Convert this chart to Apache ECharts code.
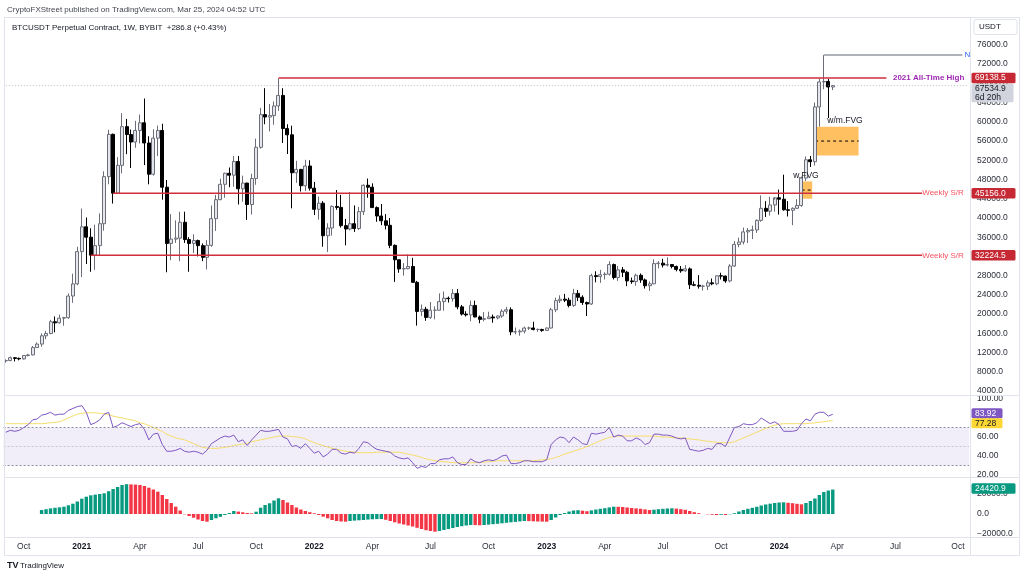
<!DOCTYPE html>
<html><head><meta charset="utf-8">
<script src="https://cdn.jsdelivr.net/npm/echarts/dist/echarts.min.js"></script>
<style>html,body{margin:0;padding:0;background:#fff}#c{width:1024px;height:577px}</style>
</head><body><div id="c"></div><script>
// ---------- DATA ----------
const startWeek = '2020-09-07';
const futureWeeks = 30;
const open = [10280,10330,10920,10780,10670,11380,11500,13030,13760,15480,
15960,18400,18180,19150,19250,23760,26280,33000,38150,36000,
32250,34250,38800,48600,57400,45150,50950,59000,57350,55800,
58200,59800,55600,49100,56600,58200,46400,34700,35600,35800,
39100,35500,34700,35300,34240,31800,34300,39850,43800,47000,
49300,48900,51750,46060,47260,42800,48200,54700,61500,61000,
61300,63300,65500,58600,57300,49400,50100,46700,50800,46200,
41800,43080,36300,37900,42400,42200,38400,37700,38800,37800,
41300,46800,46400,42150,40400,39400,38470,34300,31300,29400,
29450,29900,26600,20550,21000,19300,20800,20800,22600,23300,
23200,24300,21500,20000,19830,21800,19400,18900,19050,19400,
19200,19600,20600,20900,16300,16300,16450,17100,17100,16800,
16800,16600,17100,20900,22800,23100,22900,21800,24300,23500,
22400,22100,28000,27800,28200,28300,30300,27600,29200,28700,
26900,26750,28070,27100,25900,26300,30500,30600,30200,30300,
29900,29300,29000,29400,26100,26000,25800,25800,26500,26300,
27970,27900,26900,30000,34500,35000,37100,37400,37500,39500,
42000,41400,42700,44200,43900,41700,41600,42000,42600,48300,
52100,51700,63100,68300,68400,67250];
const close = [10330,10920,10780,10670,11380,11500,13030,13760,15480,15960,
18400,18180,19150,19250,23760,26280,33000,38150,36000,32250,
34250,38800,48600,57400,45150,50950,59000,57350,55800,58200,
59800,55600,49100,56600,58200,46400,34700,35600,35800,39100,
35500,34700,35300,34240,31800,34300,39850,43800,47000,49300,
48900,51750,46060,47260,42800,48200,54700,61500,61000,61300,
63300,65500,58600,57300,49400,50100,46700,50800,46200,41800,
43080,36300,37900,42400,42200,38400,37700,38800,37800,41300,
46800,46400,42150,40400,39400,38470,34300,31300,29400,29450,
29900,26600,20550,21000,19300,20800,20800,22600,23300,23200,
24300,21500,20000,19830,21800,19400,18900,19050,19400,19200,
19600,20600,20900,16300,16300,16450,17100,17100,16800,16800,
16600,17100,20900,22800,23100,22900,21800,24300,23500,22400,
22100,28000,27800,28200,28300,30300,27600,29200,28700,26900,
26750,28070,27100,25900,26300,30500,30600,30200,30300,29900,
29300,29000,29400,26100,26000,25800,25800,26500,26300,27970,
27900,26900,30000,34500,35000,37100,37400,37500,39500,42000,
41400,42700,44200,43900,41700,41600,42000,42600,48300,52100,
51700,63100,68300,68400,67250,67534.9];
const high = [10580,11180,10990,10950,11490,11720,13350,14100,15960,16490,
18800,19500,19900,19420,24300,28400,34000,41950,40100,37850,
38600,40950,49700,58350,57550,52650,61800,60600,58400,60200,
61500,64850,57000,58450,59200,59600,47900,40800,39500,41300,
41300,36000,36600,35500,34700,35400,42600,44800,48150,49400,
50500,52900,52900,48800,47300,49200,56500,62900,67000,63700,
64250,69000,67000,59500,59200,51900,50200,52100,52000,47500,
44450,43500,38900,42600,45800,44800,39800,45400,42600,42300,
47000,48200,47200,42400,42900,40800,40000,34500,31300,30600,
32400,31700,26900,22000,21500,22500,21600,24300,24700,23650,
25200,25200,21900,20600,22800,22800,19700,20400,20500,19900,
19700,21000,21500,21400,17200,16800,17400,17400,18400,17000,
16950,17200,21300,23400,23900,24200,23400,25250,25000,23900,
22600,28400,28900,29200,28700,31000,30500,30000,29800,29000,
27600,28400,28450,27400,26800,31400,31000,31500,31800,30400,
30100,30000,30200,29700,26800,28100,26100,27000,27400,28000,
28600,28000,30400,35200,35900,38000,37900,38400,39700,44700,
43500,44400,43800,45900,49000,43500,42200,43900,48600,52800,
52900,64000,69000,73880,68900,67650];
const low = [9880,10200,10140,10380,10530,11200,11420,12950,13200,14800,
15800,16200,18000,17570,19000,22350,26000,27700,30420,28800,
29200,32300,37350,47000,43000,45000,49300,53270,50400,54600,
55500,51000,47000,48800,52900,43800,28700,31200,34800,31000,
34800,28800,32700,32000,31000,29300,34000,37300,43700,44200,
46400,46500,42800,43400,39600,40700,46900,54400,59500,58000,
59400,62300,55600,53300,42000,47300,45500,45600,45700,40600,
39650,34000,32900,36300,41700,38000,34300,37400,37100,37500,
40600,44200,42100,39200,38500,37600,33700,26700,28600,28000,
29300,26500,17600,19600,18600,19000,18900,20700,20700,22400,
22600,21000,19700,19500,18500,19300,18100,18500,19000,18200,
18900,19200,20000,15600,15800,15500,16000,16700,16600,16300,
16300,16500,17000,20400,22300,22500,21400,21500,22700,21900,
19600,21900,26600,26500,27200,28000,27200,26900,27700,25800,
26300,25900,26500,25300,24800,26200,29500,29700,29900,29500,
28900,28600,28800,25200,25800,25300,24900,25000,26000,26000,
27200,26500,26600,29800,33900,34500,34800,35600,36900,39200,
40200,40500,41300,40700,41500,40300,38500,41900,42300,47700,
50600,50900,59000,66800,60800,66600];
const rsi = [65,67,66,67,70,73,78,79,83,84,
86,83,84,84,88,90,92,93,86,73,
75,78,84,86,70,72,75,73,71,73,
74,68,57,63,64,52,45,45,46,48,
45,44,45,44,42,46,53,56,59,61,
60,62,55,57,51,57,62,67,66,66,
67,68,60,58,50,51,48,53,48,43,
45,39,42,47,47,43,42,44,43,48,
55,54,50,47,46,45,44,40,38,37,
38,33,27,29,28,32,32,36,37,37,
39,33,31,31,37,34,33,35,36,35,
37,40,41,32,32,33,35,35,34,34,
34,36,52,57,60,59,54,60,57,53,
52,64,63,64,65,70,60,62,61,56,
56,59,57,52,54,63,63,62,62,61,
59,58,59,47,46,45,46,48,47,53,
53,50,60,70,71,74,73,73,75,80,
77,74,76,73,66,66,66,67,74,79,
77,84,86,86,82,83.92];
const rsiMa = [74,74,74,74,74,74,74,74,74,74.5,
75,75.5,76,78,80,82,84,85,85.5,85.5,
85.5,85,84.5,83.5,82,81,80,79,78,77,
75,74,72,70,68,66,63,61,59,58,
57,55,53,51,49,48.5,48,48,48.5,49,
50,51,52,52.5,53.5,55,56,57,58,59,
60,61,61,61,60.5,60,59.5,58,56,54,
52.5,51,49.5,48,47,46,45,44.5,44,43.5,
43.5,43.5,43.5,44,44,44,44,44,44,43,
42,41,40,38.5,37,36,35,34.5,34,33.5,
33,33,33,33,33,33,33,33.5,34,34.5,
35,35,35,35,35,35,35,35,35,35.5,
36,36.5,37,38.5,40,42,43.5,45,46.5,48,
50,52,54,56,58,59.5,60.5,61,61,61,
61,61,61,61,61,61,60.5,60,60,59.5,
59,59,58.5,58,57.5,57,56,55.5,55,54.5,
54,54,54,55,57,59,61,63,65,67,
69,71,72.5,73.5,74,74,74,74,74,74,
74.5,75,75.5,76,76.7,77.28];
const ao = [null,null,null,null,null,null,null,null,4000,4800,
5600,6200,6700,7300,8700,10300,12500,15300,17300,18700,
19400,20000,20700,22800,25000,27000,29000,29800,29600,29400,
29000,28000,26300,24500,22300,19000,15000,11000,7300,3500,
-300,-2000,-3700,-5500,-7000,-7700,-6000,-4300,-2800,-1000,
1000,3000,2400,1700,1000,700,2300,6300,9000,10700,
13500,15700,14000,11500,9000,6500,4500,3000,1800,700,
-1000,-2700,-4300,-6000,-7000,-7500,-7700,-7000,-6600,-6300,
-6000,-5600,-5300,-5100,-5000,-5800,-7000,-8300,-9500,-10500,
-11500,-12500,-13800,-15000,-16200,-17000,-17700,-17000,-16000,-15000,
-14000,-13000,-12200,-11500,-11000,-11100,-11300,-11000,-10600,-10200,
-9800,-9300,-8800,-8300,-7900,-7400,-7000,-7100,-7300,-7500,
-7600,-7700,-6000,-3500,-1000,1000,2500,3500,3800,3300,
2800,3600,4500,5200,5800,6600,7300,7200,7000,6500,
6000,5600,5200,4600,4000,4300,4800,5200,5500,5700,
5400,4800,4200,3000,1800,800,0,-300,-700,-1000,
-800,-1000,-300,800,2500,4000,5200,6200,7200,8500,
9500,10300,11000,11500,11700,11200,10800,10200,9700,11000,
13000,15500,19000,22000,23500,24420.9];
const levelValues = [69138.5, 45156.0, 32224.5];
const levelStart = [61, 24, 19];
const levelNames = ['2021 All-Time High', 'Weekly S/R', 'Weekly S/R'];
const lastPrice = 67534.9, barCountdown = '6d 20h';
const highRay = 73880, highRayStart = 183;
const fvgWeekly = {from: 178, to: 180, top: 47600, bottom: 44000, name: 'w.FVG'};
const fvgWM = {from: 181, to: 191, top: 59000, bottom: 53000, name: 'w/m.FVG'};
const quarterNames = {3: 'Apr', 6: 'Jul', 9: 'Oct'};

// ---------- BUILD ----------
const N = open.length, TOTAL = N + futureWeeks;
const weeks = [];
{ let t = Date.parse(startWeek + 'T00:00:00Z');
  for (let i = 0; i < TOTAL; i++) { weeks.push(new Date(t).toISOString().slice(0,10)); t += 7*864e5; } }
function timeLabel(i) {
  if (i === 0) return null;
  const d = new Date(weeks[i] + 'T00:00:00Z'), p = new Date(weeks[i-1] + 'T00:00:00Z');
  if (d.getUTCMonth() === p.getUTCMonth()) return null;
  const m = d.getUTCMonth();
  if (m === 0) return '{y|' + d.getUTCFullYear() + '}';
  return quarterNames[m] || null;
}
const FF = '"Liberation Sans", Arial, Helvetica, sans-serif';
const TXT = '#2a2e39';
const candles = open.map((o,i)=>[o, close[i], low[i], high[i]]);
const G = {left: 3.6, width: 965.5};
const grids = [
  Object.assign({top: 25.7, height: 384.5}, G),
  Object.assign({top: 380, height: 114}, G),
  Object.assign({top: 474, height: 80}, G),
  Object.assign({top: 520, height: 17}, G)
].map(g => Object.assign(g, {containLabel:false, outerBoundsMode:'none'}));
const xAxes = [0,1,2,3].map(k => ({
  type:'category', gridIndex:k, data:weeks, boundaryGap:true,
  axisLine:{show:false}, axisTick:{show:false}, splitLine:{show:false},
  axisLabel: k === 3 ? {
    show:true, interval:(idx)=> timeLabel(idx) !== null,
    formatter:(v, idx)=> timeLabel(idx) || '',
    color:TXT, fontSize:8.5, fontFamily:FF, margin:5,
    rich:{y:{fontWeight:'bold', fontSize:8.5, fontFamily:FF, color:'#131722'}}
  } : {show:false}
}));
const yBase = {type:'value', position:'right', axisLine:{show:false}, axisTick:{show:false}, splitLine:{show:false}};
const yAxes = [
  Object.assign({}, yBase, {gridIndex:0, min:0, max:80000, interval:4000,
    axisLabel:{color:TXT, fontSize:8.5, fontFamily:FF, margin:8, align:'left',
      formatter:v => (v>=4000 && v<=76000) ? v.toFixed(1) : ''}}),
  Object.assign({}, yBase, {gridIndex:1, min:0, max:120, interval:20,
    axisLabel:{color:TXT, fontSize:8.5, fontFamily:FF, margin:8, align:'left',
      formatter:v => (v>=20 && v<=100) ? v.toFixed(2) : ''}}),
  Object.assign({}, yBase, {gridIndex:2, min:-40000, max:40000, interval:20000,
    axisLabel:{color:TXT, fontSize:8.5, fontFamily:FF, margin:8, align:'left',
      formatter:v => Math.abs(v) <= 20000 ? (v < 0 ? '\u2212' + (-v).toFixed(1) : v.toFixed(1)) : ''}}),
  Object.assign({}, yBase, {gridIndex:3, min:0, max:1, axisLabel:{show:false}})
];
const series = [
  {type:'candlestick', name:'BTC', xAxisIndex:0, yAxisIndex:0, data:candles, barWidth:3.5,
   itemStyle:{color:'#e4e6eb', color0:'#000000', borderColor:'#6b6e79', borderColor0:'#000000', borderWidth:1}, z:3}
];
const seg = (pts, color, width, type, opacity) => ({type:'line', xAxisIndex:0, yAxisIndex:0, data:pts, symbol:'none', silent:true,
  lineStyle:{color, width, type: type || 'solid', opacity: opacity == null ? 1 : opacity}, z:4, animation:false});
// current price dotted line
series.push(seg([[0,lastPrice],[TOTAL-1,lastPrice]], '#9598a1', 1, [1,2], 0.6));
// level lines
levelValues.forEach((v,k)=>{
  const end = k === 0 ? 197 : 205;
  series.push(seg([[levelStart[k], v],[end, v]], '#cf2e3b', 1.5));
  series.push(seg([[215, v],[215.4, v]], '#cf2e3b', 1.5));
});
// high ray
series.push(seg([[highRayStart, highRay],[214, highRay]], '#9598a1', 1.5));
// RSI
series.push({type:'line', xAxisIndex:1, yAxisIndex:1, data:rsi, symbol:'none', silent:true,
  lineStyle:{color:'#7e57c2', width:1}, z:4,
  markArea:{silent:true, itemStyle:{color:'rgba(126,87,194,0.1)'}, data:[[{yAxis:30},{yAxis:70}]]},
  markLine:{silent:true, symbol:'none', label:{show:false},
    lineStyle:{type:[2,2], color:'#8c8f9a', width:1},
    data:[{yAxis:70},{yAxis:30},{yAxis:50, lineStyle:{opacity:0.45, type:[2,2], color:'#8c8f9a'}}]}});
series.push({type:'line', xAxisIndex:1, yAxisIndex:1, data:rsiMa, symbol:'none', silent:true,
  lineStyle:{color:'#f6dd6b', width:1}, z:3});
// AO histogram
series.push({type:'bar', xAxisIndex:2, yAxisIndex:2, data:ao, barWidth:3.4, silent:true,
  itemStyle:{color:(p)=>{ const i=p.dataIndex; const prev = ao[i-1]; return (prev==null || ao[i] >= prev) ? '#089981' : '#f23645'; }}});
series.push({type:'line', xAxisIndex:3, yAxisIndex:3, data:[], symbol:'none'});

const chart = echarts.init(document.getElementById('c'), null, {renderer:'canvas'});
chart.setOption({animation:false, backgroundColor:'#ffffff', grid:grids, xAxis:xAxes, yAxis:yAxes, series});

// ---------- ANNOTATIONS (positions via library scales) ----------
const P = (i, v) => chart.convertToPixel({gridIndex:0}, [i, v]);
const Yr = v => chart.convertToPixel({yAxisIndex:1}, v);
const Ya = v => chart.convertToPixel({yAxisIndex:2}, v);
const els = [];
const txt = (text, x, y, o) => els.push(Object.assign({type:'text', z:(o&&o.z)||60,
  style:Object.assign({text, x, y, fill:TXT, fontSize:8.5, fontFamily:FF, align:'left', verticalAlign:'middle'}, o||{})}));
const line = (x1,y1,x2,y2,stroke,w,dash,z) => els.push({type:'line', z:z||50, shape:{x1,y1,x2,y2},
  style:{stroke, lineWidth:w||1, lineDash:dash||null}});
// frame
const LC = '#e0e3eb';
els.push({type:'rect', z:50, shape:{x:4.5, y:17.5, width:1015, height:538}, style:{fill:'none', stroke:LC, lineWidth:1}});
line(970.5, 17.5, 970.5, 555.5, LC);
[395.5, 477.5, 537.5].forEach(y => line(4.5, y, 1019.5, y, LC));
// header
txt('CryptoFXStreet published on TradingView.com, Mar 25, 2024 04:52 UTC', 7, 10, {fontSize:8, fill:'#434651'});
txt('BTCUSDT Perpetual Contract, 1W, BYBIT  +286.8 (+0.43%)', 12, 28, {fontSize:8, fill:'#131722'});
els.push({type:'rect', z:50, shape:{x:974, y:19.5, width:43, height:15, r:2}, style:{fill:'#fff', stroke:LC, lineWidth:1}});
txt('USDT', 979, 27, {fontSize:8, fill:'#131722'});
// footer
txt('TV', 7, 566, {fontSize:9, fontWeight:'bold', fill:'#131722'});
txt('TradingView', 20, 566, {fontSize:8, fill:'#131722'});
// level texts (right-aligned just before the axis)
levelValues.forEach((v,k)=>{
  const [x, y] = P(215, v);
  if (k === 0) txt(levelNames[k], x - 2.5, y, {align:'right', fontWeight:'bold', fill:'#9c27b0', fontSize:8});
  else txt(levelNames[k], x - 3, y, {align:'right', fill:'#f7525f', fontSize:8});
});
// blue ray marker
{ const [x, y] = P(214, highRay); txt('N', x + 2, y, {fill:'#2962ff', fontSize:8}); }
// FVG boxes
[fvgWeekly, fvgWM].forEach((f, k) => {
  const [x1, y1] = P(f.from, f.top), [x2, y2] = P(f.to, f.bottom);
  const L = x1 - 1.8, R = x2 + (k === 0 ? 1.8 : -1);
  els.push({type:'rect', z:1, shape:{x:L, y:y1, width:R-L, height:y2-y1}, style:{fill:'rgba(255,167,38,0.72)'}});
  const ym = P(f.from, (f.top + f.bottom)/2)[1];
  line(L + 2, ym, R, ym, '#000000', 1, [3,3], 2);
  if (k === 0) txt(f.name, (L + R)/2, y1 - 6, {align:'center', fill:'#131722', fontSize:8.5});
  else { const [wx] = P(184, low[184]); txt(f.name, wx - 1, y1 - 5.5, {fill:'#131722', fontSize:8.5}); }
});
// badges
const badge = (top, lines, bg, fg, w, h, z) => {
  els.push({type:'rect', z:z||100, shape:{x:971.5, y:top, width:w, height:h, r:1.5}, style:{fill:bg}});
  const step = lines.length > 1 ? h / lines.length : h;
  lines.forEach((t, k) => els.push({type:'text', z:(z||100)+1,
    style:{text:t, x:975, y: top + step/2 + k*step, fill:fg, fontSize:8.5, fontFamily:FF, align:'left', verticalAlign:'middle'}}));
};
const BH = 10.5;
const ath = P(0, levelValues[0])[1];
badge(ath + BH/2 + 0.5, [lastPrice.toFixed(1), barCountdown], '#d1d4dc', '#131722', 42, 18.5, 100);
levelValues.forEach(v => badge(P(0, v)[1] - BH/2, [v.toFixed(1)], '#c62834', '#ffffff', 44, BH, 110));
{ const y1 = Yr(rsi[N-1]) - 1, y2 = Math.max(Yr(rsiMa[N-1]), y1 + 10);
  badge(y1 - 5, [rsi[N-1].toFixed(2)], '#7e57c2', '#ffffff', 31, 10, 110);
  badge(y2 - 5, [rsiMa[N-1].toFixed(2)], '#fdd835', '#131722', 31, 10, 110); }
badge(Ya(ao[N-1]) - 1 - BH/2, [ao[N-1].toFixed(1)], '#089981', '#ffffff', 44, BH, 110);
chart.setOption({graphic:{elements:els}});
</script></body></html>
